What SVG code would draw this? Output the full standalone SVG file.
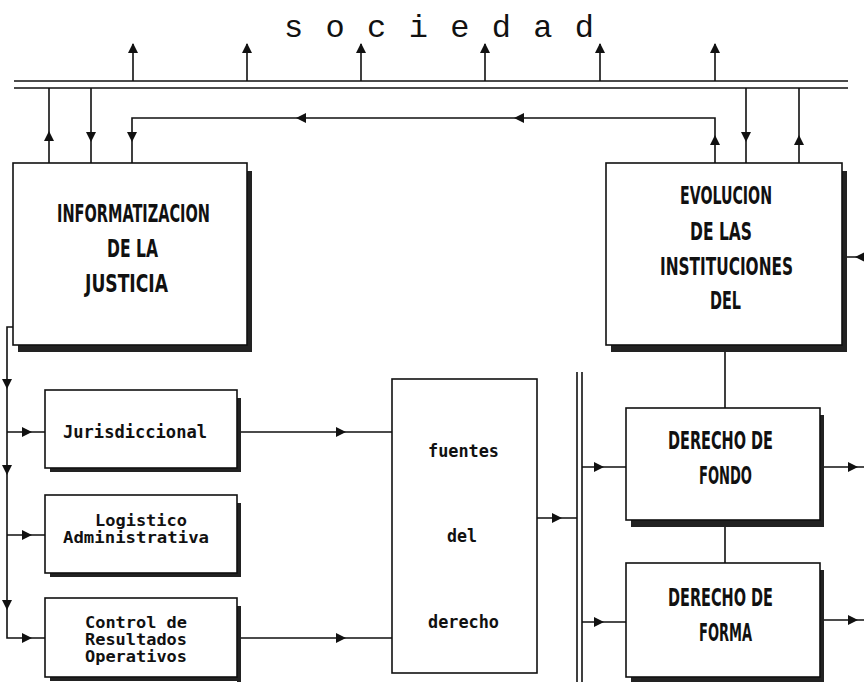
<svg xmlns="http://www.w3.org/2000/svg" xmlns:xlink="http://www.w3.org/1999/xlink" width="864" height="682" viewBox="0 0 864 682">
<style>
.bx{fill:#fff;stroke:#111;stroke-width:1.6}
.sh{fill:#222}
.ln{fill:none;stroke:#111;stroke-width:1.6}
.cap{font-family:"DejaVu Sans Condensed","DejaVu Sans",sans-serif;font-weight:bold;font-size:24px;fill:#111}
.mono{font-family:"DejaVu Sans Mono","Liberation Mono",monospace;font-weight:bold;font-size:17px;fill:#111}
.mono2{font-family:"DejaVu Sans Mono","Liberation Mono",monospace;font-weight:bold;font-size:15px;fill:#111}
.title{font-family:"Liberation Mono","DejaVu Sans Mono",monospace;font-size:32px;fill:#111}
</style>
<defs>
<path id="ah" d="M0,0 L-10,-5 L-10,5 Z" fill="#111"/>
</defs>
<rect width="864" height="682" fill="#fff"/>
<text class="title" x="284" y="37" textLength="310" lengthAdjust="spacing">s o c i e d a d</text>

<g id="connectors">
<path class="ln" d="M14,81 H848 M14,88 H848"/>
<path class="ln" d="M133,81 V44 M247,81 V44 M361,81 V44 M485,81 V44 M600,81 V44 M715,81 V44"/>
<use xlink:href="#ah" transform="translate(133,43) rotate(-90)"/>
<use xlink:href="#ah" transform="translate(247,43) rotate(-90)"/>
<use xlink:href="#ah" transform="translate(361,43) rotate(-90)"/>
<use xlink:href="#ah" transform="translate(485,43) rotate(-90)"/>
<use xlink:href="#ah" transform="translate(600,43) rotate(-90)"/>
<use xlink:href="#ah" transform="translate(715,43) rotate(-90)"/>
<path class="ln" d="M49,88 V163 M91,88 V163 M746,88 V163 M799,88 V163"/>
<use xlink:href="#ah" transform="translate(49,131) rotate(-90)"/>
<use xlink:href="#ah" transform="translate(91,142) rotate(90)"/>
<use xlink:href="#ah" transform="translate(746,142) rotate(90)"/>
<use xlink:href="#ah" transform="translate(799,135) rotate(-90)"/>
<path class="ln" d="M715,163 V118 H132 V163"/>
<use xlink:href="#ah" transform="translate(715,135) rotate(-90)"/>
<use xlink:href="#ah" transform="translate(514,118) rotate(180)"/>
<use xlink:href="#ah" transform="translate(296,118) rotate(180)"/>
<use xlink:href="#ah" transform="translate(132,142) rotate(90)"/>

<path class="ln" d="M13,327 H7 V638 H45 M7,432 H45 M7,535 H45"/>
<use xlink:href="#ah" transform="translate(7,389) rotate(90)"/>
<use xlink:href="#ah" transform="translate(7,475) rotate(90)"/>
<use xlink:href="#ah" transform="translate(7,610) rotate(90)"/>
<use xlink:href="#ah" transform="translate(32,432)"/>
<use xlink:href="#ah" transform="translate(32,535)"/>
<use xlink:href="#ah" transform="translate(32,638)"/>

<path class="ln" d="M241,432 H392 M241,638 H392"/>
<use xlink:href="#ah" transform="translate(346,432)"/>
<use xlink:href="#ah" transform="translate(346,638)"/>

<path class="ln" d="M537,518 H577 M577,372 V682 M582,372 V682 M582,467 H626 M582,622 H626"/>
<use xlink:href="#ah" transform="translate(562,518)"/>
<use xlink:href="#ah" transform="translate(604,467)"/>
<use xlink:href="#ah" transform="translate(604,622)"/>

<path class="ln" d="M725,352 V408 M725,527 V563 M824,467 H864 M824,620 H864 M846,257 H864"/>
<use xlink:href="#ah" transform="translate(858,467)"/>
<use xlink:href="#ah" transform="translate(858,620)"/>
<use xlink:href="#ah" transform="translate(855,257) rotate(180)"/>
</g>

<g id="informatizacion">
<rect class="sh" x="247" y="171" width="5" height="181"/>
<rect class="sh" x="18" y="345" width="234" height="7"/>
<rect class="bx" x="13" y="163" width="234" height="182"/>
<text class="cap" x="57" y="222" textLength="153" lengthAdjust="spacingAndGlyphs">INFORMATIZACION</text>
<text class="cap" x="107" y="257" textLength="51" lengthAdjust="spacingAndGlyphs">DE LA</text>
<text class="cap" x="85" y="292" textLength="83" lengthAdjust="spacingAndGlyphs">JUSTICIA</text>
</g>

<g id="evolucion">
<rect class="sh" x="842" y="171" width="5" height="181"/>
<rect class="sh" x="611" y="345" width="236" height="7"/>
<rect class="bx" x="606" y="163" width="236" height="182"/>
<text class="cap" x="680" y="204" textLength="92" lengthAdjust="spacingAndGlyphs">EVOLUCION</text>
<text class="cap" x="690" y="240" textLength="62" lengthAdjust="spacingAndGlyphs">DE LAS</text>
<text class="cap" x="660" y="275" textLength="133" lengthAdjust="spacingAndGlyphs">INSTITUCIONES</text>
<text class="cap" x="710" y="309" textLength="31" lengthAdjust="spacingAndGlyphs">DEL</text>
</g>

<g id="jurisdiccional">
<rect class="sh" x="237" y="398" width="4" height="74"/>
<rect class="sh" x="50" y="468" width="191" height="4"/>
<rect class="bx" x="45" y="390" width="192" height="78"/>
<text class="mono" x="63" y="438" textLength="144" lengthAdjust="spacingAndGlyphs">Jurisdiccional</text>
</g>

<g id="logistico">
<rect class="sh" x="237" y="503" width="4" height="74"/>
<rect class="sh" x="50" y="573" width="191" height="4"/>
<rect class="bx" x="45" y="495" width="192" height="78"/>
<text class="mono2" x="95" y="526" textLength="92" lengthAdjust="spacingAndGlyphs">Logistico</text>
<text class="mono2" x="63" y="543" textLength="146" lengthAdjust="spacingAndGlyphs">Administrativa</text>
</g>

<g id="control">
<rect class="sh" x="237" y="606" width="4" height="76"/>
<rect class="sh" x="50" y="677" width="191" height="4"/>
<rect class="bx" x="45" y="598" width="192" height="79"/>
<text class="mono2" x="85" y="628" textLength="102" lengthAdjust="spacingAndGlyphs">Control de</text>
<text class="mono2" x="85" y="645" textLength="102" lengthAdjust="spacingAndGlyphs">Resultados</text>
<text class="mono2" x="85" y="662" textLength="102" lengthAdjust="spacingAndGlyphs">Operativos</text>
</g>

<g id="fuentes">
<rect class="bx" x="392" y="379" width="145" height="294"/>
<text class="mono" x="428" y="457" textLength="71" lengthAdjust="spacingAndGlyphs">fuentes</text>
<text class="mono" x="447" y="542" textLength="30" lengthAdjust="spacingAndGlyphs">del</text>
<text class="mono" x="428" y="628" textLength="71" lengthAdjust="spacingAndGlyphs">derecho</text>
</g>

<g id="fondo">
<rect class="sh" x="820" y="415" width="4" height="112"/>
<rect class="sh" x="631" y="520" width="193" height="7"/>
<rect class="bx" x="626" y="408" width="194" height="112"/>
<text class="cap" x="668" y="449" textLength="105" lengthAdjust="spacingAndGlyphs">DERECHO DE</text>
<text class="cap" x="699" y="484" textLength="53" lengthAdjust="spacingAndGlyphs">FONDO</text>
</g>

<g id="forma">
<rect class="sh" x="820" y="570" width="4" height="112"/>
<rect class="sh" x="631" y="677" width="193" height="5"/>
<rect class="bx" x="626" y="563" width="194" height="114"/>
<text class="cap" x="668" y="606" textLength="105" lengthAdjust="spacingAndGlyphs">DERECHO DE</text>
<text class="cap" x="699" y="641" textLength="53" lengthAdjust="spacingAndGlyphs">FORMA</text>
</g>
</svg>
